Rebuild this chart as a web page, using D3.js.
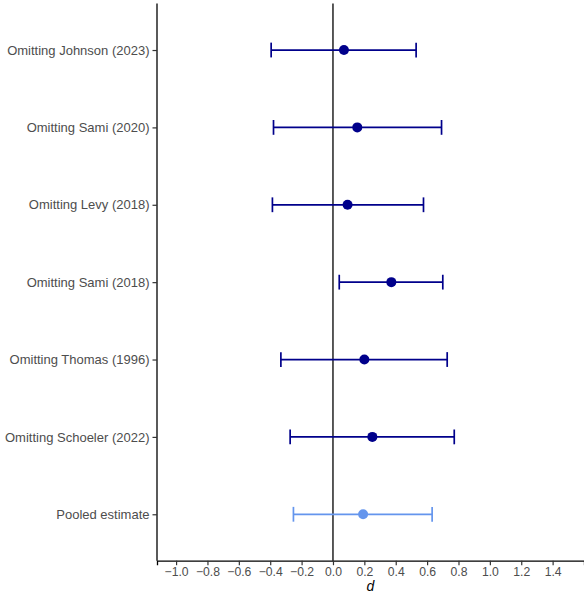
<!DOCTYPE html>
<html>
<head>
<meta charset="utf-8">
<script src="https://cdn.jsdelivr.net/npm/d3@7"></script>
<style>
  html, body { margin: 0; padding: 0; background: #fff; }
  svg { display: block; }
</style>
</head>
<body>
<svg id="chart" width="584" height="600"></svg>
<script>
// Leave-one-out sensitivity analysis: effect size d with 95% CI
const labels = [
  "Omitting Johnson (2023)",
  "Omitting Sami (2020)",
  "Omitting Levy (2018)",
  "Omitting Sami (2018)",
  "Omitting Thomas (1996)",
  "Omitting Schoeler (2022)",
  "Pooled estimate"
];
const estimates = [0.070, 0.155, 0.093, 0.372, 0.200, 0.251, 0.192];
const lower     = [-0.394, -0.379, -0.386, 0.040, -0.332, -0.273, -0.252];
const upper     = [0.530, 0.692, 0.577, 0.700, 0.728, 0.773, 0.632];
const isPooled  = [false, false, false, false, false, false, true];
const xTicks = [-1.0, -0.8, -0.6, -0.4, -0.2, 0.0, 0.2, 0.4, 0.6, 0.8, 1.0, 1.2, 1.4];

const rows = labels.map((l, i) => ({
  label: l, est: estimates[i], lo: lower[i], hi: upper[i], pooled: isPooled[i]
}));

const W = 584, H = 600;
const margin = { left: 157, right: 0, top: 3.6, bottom: 39.3 };
const svg = d3.select("#chart");
const font = "'Liberation Sans', Arial, Helvetica, sans-serif";

const x = d3.scaleLinear()
  .domain([-1.1216, 1.6])
  .range([margin.left, W - margin.right]);

const y = d3.scalePoint()
  .domain(labels)
  .range([margin.top, H - margin.bottom])
  .padding(0.6);

const darkBlue = "#00008B";
const poolBlue = "#6495ED";

// zero reference line
svg.append("line")
  .attr("x1", x(0)).attr("x2", x(0))
  .attr("y1", margin.top).attr("y2", H - margin.bottom)
  .attr("stroke", "#000").attr("stroke-width", 1.3);

// error bars
const capH = 7.4;
const g = svg.append("g");
rows.forEach(r => {
  const col = r.pooled ? poolBlue : darkBlue;
  const yy = y(r.label);
  g.append("line")
    .attr("x1", x(r.lo)).attr("x2", x(r.hi))
    .attr("y1", yy).attr("y2", yy)
    .attr("stroke", col).attr("stroke-width", 1.7);
  [r.lo, r.hi].forEach(v => {
    g.append("line")
      .attr("x1", x(v)).attr("x2", x(v))
      .attr("y1", yy - capH).attr("y2", yy + capH)
      .attr("stroke", col).attr("stroke-width", 1.7);
  });
  g.append("circle")
    .attr("cx", x(r.est)).attr("cy", yy).attr("r", 5)
    .attr("fill", col);
});

// axes
const xAxis = d3.axisBottom(x)
  .tickValues(xTicks)
  .tickFormat(d => d3.format(".1f")(d).replace("-", "\u2212"))
  .tickSize(4.5).tickPadding(2);
const gx = svg.append("g")
  .attr("transform", `translate(0,${H - margin.bottom})`)
  .call(xAxis);
gx.select(".domain").attr("stroke", "#000").attr("stroke-width", 1.3);
gx.selectAll(".tick line").attr("stroke", "#333").attr("stroke-width", 1.2);
gx.selectAll(".tick text")
  .attr("fill", "#4d4d4d").style("font-family", font).style("font-size", "12.2px");

const yAxis = d3.axisLeft(y).tickSize(4.5).tickPadding(3);
const gy = svg.append("g")
  .attr("transform", `translate(${margin.left},0)`)
  .call(yAxis);
gy.select(".domain").attr("stroke", "#000").attr("stroke-width", 1.3)
  .attr("d", `M0,${margin.top}V${H - margin.bottom}`);
gy.selectAll(".tick line").attr("stroke", "#333").attr("stroke-width", 1.2);
gy.selectAll(".tick text")
  .attr("fill", "#4d4d4d").style("font-family", font).style("font-size", "13px");

// x axis title
svg.append("text")
  .attr("x", (margin.left + W - margin.right) / 2)
  .attr("y", 591)
  .attr("text-anchor", "middle")
  .style("font-family", font).style("font-size", "14px").style("font-style", "italic")
  .attr("fill", "#000")
  .text("d");
</script>
</body>
</html>
